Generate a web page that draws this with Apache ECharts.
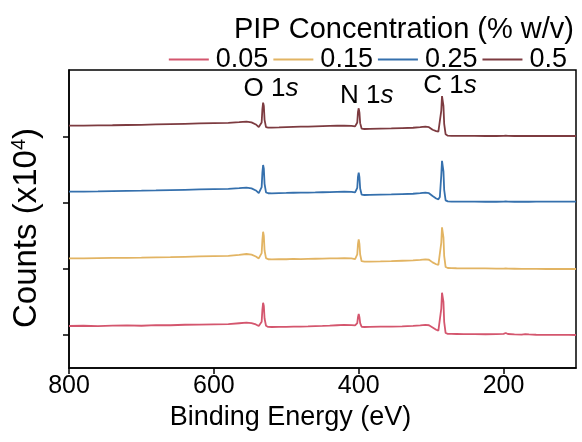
<!DOCTYPE html>
<html><head><meta charset="utf-8">
<script src="https://cdn.jsdelivr.net/npm/echarts@6/dist/echarts.min.js"></script>
<style>html,body{margin:0;padding:0;background:#fff}#c{width:582px;height:442px}</style>
</head><body><div id="c"></div>
<script>
const energies = [800,780,760,740,720,700,680,660,640,620,600,580,565,555,548,542,538,536,534,533,532,531,530,528,525,520,510,500,490,480,470,460,450,440,430,420,410,405,402,401,400,399,398,396,392,385,370,355,340,325,315,308,303,298,293,290,288,286,285,284,283,282,280,277,272,265,255,240,225,210,200,197,194,185,175,170,168,165,155,140,125,110,100];
const seriesNames = ['0.05','0.15','0.25','0.5'];
const colors = ['#d4566e','#e2b463','#3570ad','#7d3b40'];
const s005 = [0.136,0.140,0.133,0.142,0.145,0.140,0.150,0.148,0.155,0.158,0.162,0.165,0.178,0.186,0.180,0.160,0.135,0.130,0.200,0.380,0.489,0.440,0.250,0.140,0.122,0.121,0.124,0.122,0.128,0.126,0.130,0.135,0.138,0.142,0.148,0.152,0.150,0.145,0.180,0.270,0.318,0.270,0.180,0.125,0.121,0.122,0.126,0.128,0.132,0.138,0.145,0.152,0.148,0.115,0.080,0.065,0.090,0.400,0.640,0.667,0.500,0.200,0.030,0.018,0.016,0.015,0.013,0.012,0.011,0.012,0.018,0.030,0.015,0.008,0.006,0.012,0.030,0.008,0.004,0.003,0.002,0.001,0.000];
const s015 = [1.162,1.160,1.165,1.168,1.170,1.172,1.176,1.180,1.185,1.190,1.195,1.200,1.215,1.227,1.218,1.190,1.160,1.155,1.240,1.440,1.565,1.500,1.280,1.165,1.148,1.147,1.150,1.148,1.152,1.150,1.153,1.155,1.157,1.160,1.162,1.165,1.160,1.150,1.220,1.380,1.450,1.380,1.220,1.118,1.111,1.113,1.116,1.120,1.125,1.130,1.138,1.147,1.140,1.100,1.072,1.061,1.090,1.400,1.630,1.656,1.480,1.200,1.030,1.015,1.012,1.011,1.010,1.009,1.008,1.007,1.006,1.010,1.005,1.004,1.003,1.002,1.006,1.002,1.001,1.000,1.000,1.000,1.000];
const s025 = [2.171,2.173,2.176,2.180,2.183,2.186,2.190,2.195,2.200,2.205,2.210,2.215,2.225,2.232,2.222,2.190,2.150,2.140,2.240,2.460,2.576,2.520,2.290,2.160,2.148,2.147,2.150,2.152,2.155,2.156,2.158,2.160,2.163,2.166,2.169,2.171,2.168,2.160,2.230,2.400,2.459,2.390,2.220,2.128,2.121,2.122,2.126,2.130,2.135,2.140,2.148,2.156,2.148,2.105,2.068,2.056,2.090,2.420,2.640,2.667,2.480,2.200,2.040,2.024,2.022,2.021,2.020,2.020,2.019,2.019,2.020,2.024,2.020,2.019,2.019,2.019,2.021,2.019,2.020,2.020,2.020,2.020,2.020];
const s05 = [3.171,3.172,3.175,3.178,3.182,3.185,3.190,3.195,3.200,3.205,3.210,3.215,3.225,3.232,3.222,3.190,3.150,3.140,3.220,3.420,3.520,3.470,3.260,3.150,3.142,3.141,3.145,3.150,3.154,3.156,3.158,3.161,3.164,3.167,3.170,3.171,3.168,3.160,3.220,3.380,3.435,3.370,3.210,3.128,3.121,3.122,3.126,3.130,3.135,3.140,3.148,3.156,3.148,3.110,3.088,3.080,3.110,3.400,3.620,3.647,3.470,3.200,3.040,3.020,3.018,3.017,3.016,3.016,3.015,3.015,3.016,3.020,3.016,3.015,3.015,3.015,3.017,3.015,3.015,3.015,3.015,3.015,3.015];
const xTicks = [200,400,600,800];
const yTicks = [0,1,2,3];
const peakNames = ['O 1','N 1','C 1'];
const peakLabelAt = [[521,3.73],[389,3.626],[274,3.78]];

const allSeries = [s005,s015,s025,s05];
const FONT = 'Liberation Sans, Arial, Helvetica, sans-serif';
const chart = echarts.init(document.getElementById('c'), null, {renderer:'canvas'});
chart.setOption({
  animation:false,
  backgroundColor:'#fff',
  textStyle:{fontFamily:FONT,color:'#000'},
  title:{text:'PIP Concentration (% w/v)', right:3, top:10, textStyle:{fontFamily:FONT,fontSize:29,fontWeight:'normal',color:'#000'}},
  legend:{right:10, top:41, icon:'rect', itemWidth:40, itemHeight:2, itemGap:5,
    textStyle:{fontFamily:FONT,fontSize:27,color:'#000',padding:[0,0,0,2]},
    data:seriesNames},
  grid:{left:69,right:6,top:70,bottom:74,show:true,borderColor:'#000',borderWidth:1.5},
  xAxis:{type:'value',inverse:true,min:100,max:800,
    name:'Binding Energy (eV)',nameLocation:'middle',nameGap:33,
    nameTextStyle:{fontFamily:FONT,fontSize:27,color:'#000',padding:[0,64,0,0]},
    axisLine:{onZero:false,lineStyle:{color:'#000',width:1.5}},
    axisTick:{show:true,length:6,lineStyle:{color:'#000',width:1.5},customValues:xTicks},
    axisLabel:{fontFamily:FONT,fontSize:25,color:'#000',margin:6,customValues:xTicks},
    splitLine:{show:false}},
  yAxis:{type:'value',min:-0.5,max:4.015,
    name:'Counts (x10{sup|4})',nameLocation:'middle',nameGap:25,nameRotate:90,
    nameTextStyle:{fontFamily:FONT,fontSize:33,color:'#000',padding:[0,18,0,0],rich:{sup:{fontFamily:FONT,fontSize:20,verticalAlign:'top',padding:[0,0,15,0],color:'#000'}}},
    axisLine:{show:true,onZero:false,lineStyle:{color:'#000',width:1.5}},
    axisTick:{show:true,length:6,lineStyle:{color:'#000',width:1.5},customValues:yTicks},
    axisLabel:{show:false},
    splitLine:{show:false}},
  series: allSeries.map((arr,i)=>({
    name:seriesNames[i], type:'line', showSymbol:false, symbol:'none',
    color:colors[i],
    lineStyle:{width:1.8,color:colors[i]},
    data: energies.map((e,j)=>[e,arr[j]])
  }))
});
const g = peakNames.map((t,i)=>{
  const p = chart.convertToPixel({gridIndex:0}, peakLabelAt[i]);
  return {type:'text', x:p[0], y:p[1], style:{text:t+'{i|s}', fontFamily:FONT, fontSize:26, fill:'#000', align:'center', verticalAlign:'middle',
    rich:{i:{fontFamily:FONT,fontSize:26,fontStyle:'italic',fill:'#000'}}}};
});
chart.setOption({graphic:g});
</script></body></html>
